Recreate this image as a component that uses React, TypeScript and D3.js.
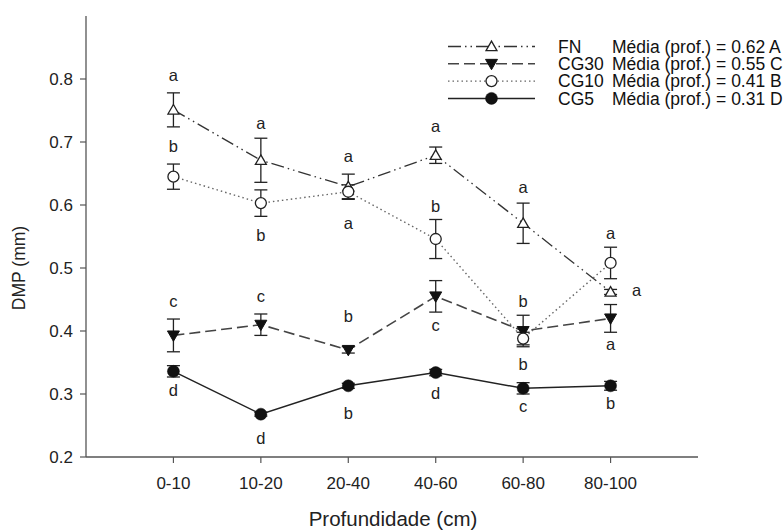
import React from 'react';
import * as d3 from 'd3';

const categories = ['0-10', '10-20', '20-40', '40-60', '60-80', '80-100'];
const yTicks = [0.2, 0.3, 0.4, 0.5, 0.6, 0.7, 0.8];

const fnMeans = [0.751, 0.671, 0.629, 0.679, 0.571, 0.462];
const fnErrors = [0.027, 0.035, 0.02, 0.013, 0.032, 0.004];
const fnLetters = ['a', 'a', 'a', 'a', 'a', 'a'];
const fnLetterAt = [0.806, 0.73, 0.677, 0.724, 0.627, 0.464];

const cg30Means = [0.393, 0.41, 0.37, 0.455, 0.4, 0.42];
const cg30Errors = [0.026, 0.017, 0.005, 0.025, 0.025, 0.022];
const cg30Letters = ['c', 'c', 'b', 'c', 'b', 'a'];
const cg30LetterAt = [0.447, 0.454, 0.423, 0.408, 0.447, 0.379];

const cg10Means = [0.645, 0.603, 0.621, 0.546, 0.388, 0.508];
const cg10Errors = [0.02, 0.021, 0.011, 0.031, 0.01, 0.025];
const cg10Letters = ['b', 'b', 'a', 'b', 'b', 'a'];
const cg10LetterAt = [0.692, 0.552, 0.571, 0.597, 0.346, 0.555];

const cg5Means = [0.336, 0.268, 0.313, 0.334, 0.309, 0.313];
const cg5Errors = [0.009, 0.003, 0.004, 0.005, 0.009, 0.007];
const cg5Letters = ['d', 'd', 'b', 'd', 'c', 'b'];
const cg5LetterAt = [0.305, 0.23, 0.269, 0.3, 0.28, 0.285];

const legendNames = ['FN', 'CG30', 'CG10', 'CG5'];
const legendMeans = ['Média (prof.) = 0.62 A', 'Média (prof.) = 0.55 C', 'Média (prof.) = 0.41 B', 'Média (prof.) = 0.31 D'];

type Marker = 'triUpOpen' | 'triDownFilled' | 'circleOpen' | 'circleFilled';

const series = [
  { name: 'FN', means: fnMeans, errors: fnErrors, letters: fnLetters, letterAt: fnLetterAt, dash: '13,4,1.5,4,1.5,4', stroke: '#333', width: 1.3, marker: 'triUpOpen' as Marker },
  { name: 'CG30', means: cg30Means, errors: cg30Errors, letters: cg30Letters, letterAt: cg30LetterAt, dash: '11,5', stroke: '#444', width: 1.6, marker: 'triDownFilled' as Marker },
  { name: 'CG10', means: cg10Means, errors: cg10Errors, letters: cg10Letters, letterAt: cg10LetterAt, dash: '1.5,3', stroke: '#666', width: 1.4, marker: 'circleOpen' as Marker },
  { name: 'CG5', means: cg5Means, errors: cg5Errors, letters: cg5Letters, letterAt: cg5LetterAt, dash: '', stroke: '#222', width: 1.5, marker: 'circleFilled' as Marker },
];

const FONT = '"Liberation Sans", Arial, Helvetica, sans-serif';

function MarkerShape({ type, x, y }: { type: Marker; x: number; y: number }) {
  const sym = (t: d3.SymbolType, size: number) => d3.symbol().type(t).size(size)()!;
  if (type === 'triUpOpen') {
    return <path d={sym(d3.symbolTriangle, 52)} transform={`translate(${x},${y + 1})`} fill="#fff" stroke="#222" strokeWidth={1.3} />;
  }
  if (type === 'triDownFilled') {
    return <path d={sym(d3.symbolTriangle, 62)} transform={`translate(${x},${y - 1}) rotate(180)`} fill="#111" stroke="#111" strokeWidth={1} />;
  }
  if (type === 'circleOpen') {
    return <circle cx={x} cy={y} r={5.5} fill="#fff" stroke="#222" strokeWidth={1.3} />;
  }
  return <circle cx={x} cy={y} r={6} fill="#111" stroke="#111" strokeWidth={0.5} />;
}

export default function App() {
  const W = 783;
  const H = 530;
  const x = d3.scaleLinear().domain([-1, 6]).range([86, 698]);
  const y = d3.scaleLinear().domain([0.2, 0.9]).range([457, 16]);
  const capHalf = 6.5;

  return (
    <svg width={W} height={H} style={{ position: 'absolute', left: 0, top: 0, background: '#fff' }} fontFamily={FONT}>
      <rect x={0} y={0} width={W} height={H} fill="#fff" />
      {/* axes */}
      <line x1={86} x2={86} y1={y(0.9)} y2={y(0.2)} stroke="#555" strokeWidth={1.3} />
      <line x1={x(-1)} x2={x(6)} y1={y(0.2)} y2={y(0.2)} stroke="#555" strokeWidth={1.3} />
      {yTicks.map((t) => (
        <g key={t}>
          <line x1={80} x2={86} y1={y(t)} y2={y(t)} stroke="#555" strokeWidth={1.2} />
          <text x={73} y={y(t)} dy="0.36em" textAnchor="end" fontSize={17} fill="#222">{t.toFixed(1)}</text>
        </g>
      ))}
      {categories.map((c, i) => (
        <g key={c}>
          <line x1={x(i)} x2={x(i)} y1={y(0.2)} y2={y(0.2) + 6} stroke="#555" strokeWidth={1.2} />
          <text x={x(i)} y={489} textAnchor="middle" fontSize={17} fill="#222">{c}</text>
        </g>
      ))}
      <text x={393} y={526} textAnchor="middle" fontSize={20.5} fill="#222">Profundidade (cm)</text>
      <text transform={`translate(25,268) rotate(-90)`} textAnchor="middle" fontSize={17.5} fill="#222">DMP (mm)</text>

      {/* lines */}
      {series.map((s) => {
        const line = d3.line<number>().x((_, i) => x(i)).y((d) => y(d));
        return <path key={s.name + 'l'} d={line(s.means)!} fill="none" stroke={s.stroke} strokeWidth={s.width} strokeDasharray={s.dash || undefined} />;
      })}
      {/* error bars */}
      {series.map((s) => (
        <g key={s.name + 'e'} stroke="#222" strokeWidth={1.3}>
          {s.means.map((m, i) => (
            <g key={i}>
              <line x1={x(i)} x2={x(i)} y1={y(m + s.errors[i])} y2={y(m - s.errors[i])} />
              <line x1={x(i) - capHalf} x2={x(i) + capHalf} y1={y(m + s.errors[i])} y2={y(m + s.errors[i])} />
              <line x1={x(i) - capHalf} x2={x(i) + capHalf} y1={y(m - s.errors[i])} y2={y(m - s.errors[i])} />
            </g>
          ))}
        </g>
      ))}
      {/* markers */}
      {series.map((s) => (
        <g key={s.name + 'm'}>
          {s.means.map((m, i) => (
            <MarkerShape key={i} type={s.marker} x={x(i)} y={y(m)} />
          ))}
        </g>
      ))}
      {/* letters */}
      {series.map((s) => (
        <g key={s.name + 't'}>
          {s.letters.map((l, i) => {
            const right = s.name === 'FN' && i === categories.length - 1;
            return (
              <text key={i} x={x(i) + (right ? 26 : 0)} y={y(s.letterAt[i])} dy="0.33em" textAnchor="middle" fontSize={16.5} fill="#222">{l}</text>
            );
          })}
        </g>
      ))}
      {/* legend */}
      {series.map((s, i) => {
        const ly = 46.5 + i * 17.3;
        return (
          <g key={s.name + 'lg'}>
            <line x1={448} x2={535} y1={ly} y2={ly} stroke={s.stroke} strokeWidth={s.width} strokeDasharray={s.dash || undefined} />
            <MarkerShape type={s.marker} x={491.5} y={ly} />
            <text x={558} y={ly} dy="0.36em" fontSize={17.5} fill="#111">{legendNames[i]}</text>
            <text x={612} y={ly} dy="0.36em" fontSize={17.5} fill="#111">{legendMeans[i]}</text>
          </g>
        );
      })}
    </svg>
  );
}
